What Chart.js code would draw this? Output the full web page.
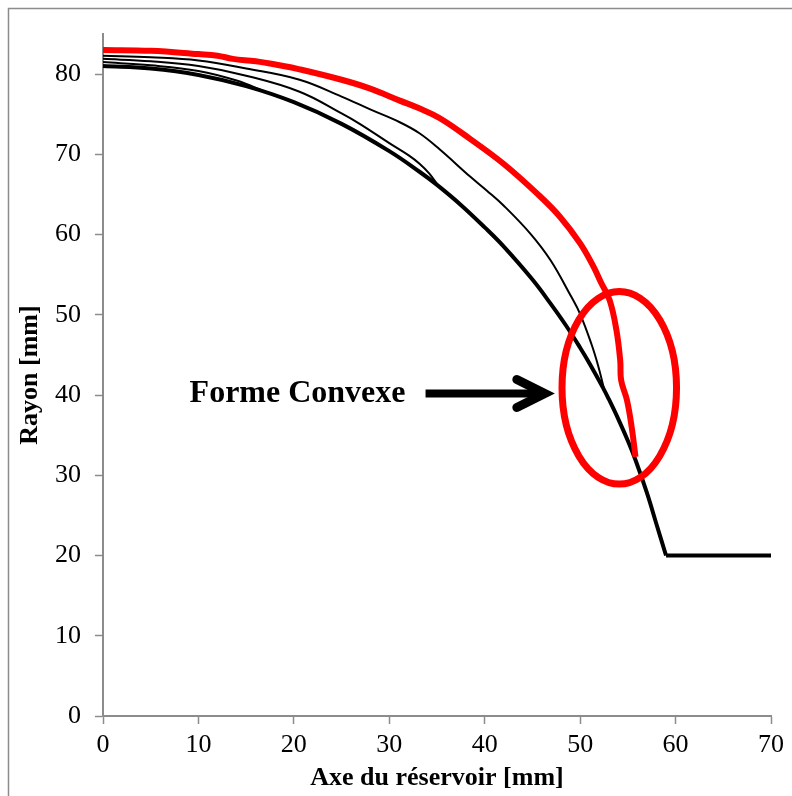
<!DOCTYPE html>
<html><head><meta charset="utf-8">
<script src="https://cdn.jsdelivr.net/npm/chart.js@4/dist/chart.umd.min.js"></script>
<style>html,body{margin:0;padding:0;background:#fff;}</style>
</head><body>
<canvas id="c" width="792" height="796"></canvas>
<script>
// ---- data ----
const xRed = [0, 5, 10, 12, 13.6, 16, 18.5, 20.6, 25, 28, 31.1, 33.2, 35.3, 38.5, 42.0, 45.5, 47.9, 50.0, 51.4, 52.2, 53.1, 53.8, 54.2, 54.3, 54.9, 55.4, 55.8];
const yRed = [83.0, 82.9, 82.5, 82.3, 81.9, 81.6, 81.1, 80.6, 79.3, 78.2, 76.7, 75.7, 74.5, 71.9, 68.8, 65.1, 62.2, 58.9, 56.0, 54.0, 51.8, 48.1, 44.3, 41.8, 39.4, 36.0, 32.3];

const xThinA = [0, 5, 10, 15, 20.6, 25, 28, 31.1, 33.2, 35.3, 38.5, 40.2, 42.0, 44.8, 46.9, 49.0, 50.0, 51.2, 51.9, 52.5];
const yThinA = [82.3, 82.1, 81.7, 80.7, 79.3, 77.2, 75.6, 74.0, 72.6, 70.6, 67.2, 65.5, 63.6, 60.1, 56.8, 52.4, 50.1, 46.3, 43.6, 40.8];

const xThinB = [0, 5, 10, 15, 20.6, 25, 26.9, 30, 32, 33.2, 34.2, 35.0];
const yThinB = [81.9, 81.6, 81.0, 79.8, 77.8, 75.1, 73.8, 71.4, 69.9, 68.8, 67.6, 66.3];

const xThinC = [0, 5, 10, 14, 17];
const yThinC = [81.5, 81.1, 80.4, 79.2, 77.8];

const xBase = [0, 5, 10, 15, 20, 25, 30, 33.2, 35, 37.5, 40, 42, 45, 46.9, 48.5, 50, 51, 52.4, 53, 54, 55, 55.8, 57, 58, 59];
const yBase = [81.0, 80.7, 79.9, 78.5, 76.5, 73.8, 70.4, 67.8, 66.2, 63.7, 60.9, 58.5, 54.4, 51.4, 48.7, 45.9, 43.9, 40.9, 39.5, 37.0, 34.3, 31.9, 27.8, 23.9, 20.0];
const xFlat = [59, 70];
const yFlat = [20.0, 20.0];

const xTicks = [0, 10, 20, 30, 40, 50, 60, 70];
const yTicks = [0, 10, 20, 30, 40, 50, 60, 70, 80];

const annotText = "Forme Convexe";
const annotTextRight = 31.7;   // mm
const annotY = 40.2;           // mm
const arrowFrom = 33.8, arrowTo = 46.3;
const ellipseCx = 54.1, ellipseCy = 40.9, ellipseRx = 6.0, ellipseRy = 12.0;

const pts = (xs, ys) => xs.map((x, i) => ({x, y: ys[i]}));

const FONT = "'Liberation Serif', 'Times New Roman', serif";
const AXIS_GRAY = '#8c8c8c';

const framePlugin = {
  id: 'frame',
  beforeDraw(chart) {
    const ctx = chart.ctx;
    ctx.save();
    ctx.fillStyle = '#fff';
    ctx.fillRect(0, 0, chart.width, chart.height);
    ctx.strokeStyle = '#8c8c8c';
    ctx.lineWidth = 1.5;
    ctx.strokeRect(8.5, 8.5, 900, 900);
    ctx.restore();
  }
};

const annotPlugin = {
  id: 'annot',
  afterDatasetsDraw(chart) {
    const ctx = chart.ctx, xs = chart.scales.x, ys = chart.scales.y;
    ctx.save();
    const cx = xs.getPixelForValue(ellipseCx), cy = ys.getPixelForValue(ellipseCy);
    const rx = xs.getPixelForValue(ellipseCx + ellipseRx) - cx;
    const ry = cy - ys.getPixelForValue(ellipseCy + ellipseRy);
    ctx.beginPath();
    ctx.ellipse(cx, cy, rx, ry, 0, 0, Math.PI * 2);
    ctx.strokeStyle = '#ff0000';
    ctx.lineWidth = 7;
    ctx.stroke();
    const ay = ys.getPixelForValue(annotY);
    const ax0 = xs.getPixelForValue(arrowFrom), ax1 = xs.getPixelForValue(arrowTo);
    ctx.strokeStyle = '#000';
    ctx.lineWidth = 8;
    ctx.lineCap = 'butt';
    ctx.beginPath();
    ctx.moveTo(ax0, ay);
    ctx.lineTo(ax1 - 4, ay);
    ctx.stroke();
    ctx.lineWidth = 9;
    ctx.lineCap = 'round';
    ctx.lineJoin = 'miter';
    ctx.beginPath();
    ctx.moveTo(ax1 - 28, ay - 14);
    ctx.lineTo(ax1, ay);
    ctx.lineTo(ax1 - 28, ay + 14);
    ctx.stroke();
    ctx.fillStyle = '#000';
    ctx.font = "bold 32px " + FONT;
    ctx.textAlign = 'right';
    ctx.textBaseline = 'middle';
    ctx.fillText(annotText, xs.getPixelForValue(annotTextRight), ay);
    ctx.restore();
  }
};

new Chart(document.getElementById('c'), {
  type: 'scatter',
  data: {
    datasets: [
      {label: 'rouge', data: pts(xRed, yRed), borderColor: '#ff0000', borderWidth: 6, tension: 0.4},
      {label: 'A', data: pts(xThinA, yThinA), borderColor: '#000', borderWidth: 2, tension: 0.4},
      {label: 'B', data: pts(xThinB, yThinB), borderColor: '#000', borderWidth: 2, tension: 0.4},
      {label: 'C', data: pts(xThinC, yThinC), borderColor: '#000', borderWidth: 2, tension: 0.4},
      {label: 'base', data: pts(xBase, yBase), borderColor: '#000', borderWidth: 4, tension: 0.4},
      {label: 'base2', data: pts(xFlat, yFlat), borderColor: '#000', borderWidth: 4, tension: 0}
    ].map(d => Object.assign({showLine: true, pointRadius: 0, pointHoverRadius: 0, fill: false, borderJoinStyle: 'round', borderCapStyle: 'butt'}, d))
  },
  options: {
    responsive: false,
    animation: false,
    devicePixelRatio: 1,
    layout: {padding: {left: 0, right: 21, top: 34, bottom: 0}},
    plugins: {legend: {display: false}, tooltip: {enabled: false}},
    scales: {
      x: {
        type: 'linear', min: 0, max: 70,
        afterBuildTicks: s => { s.ticks = xTicks.map(v => ({value: v})); },
        afterFit: s => { s.height = 80; },
        grid: {drawOnChartArea: false, drawTicks: true, tickLength: 8, tickColor: AXIS_GRAY, tickWidth: 1.5},
        border: {color: AXIS_GRAY, width: 2},
        ticks: {font: {family: FONT, size: 26}, color: '#000', padding: 6, maxRotation: 0},
        title: {display: true, text: 'Axe du réservoir [mm]', font: {family: FONT, size: 26, weight: 'bold'}, color: '#000', padding: {top: 0, bottom: 2}}
      },
      y: {
        type: 'linear', min: 0, max: 85,
        afterBuildTicks: s => { s.ticks = yTicks.map(v => ({value: v})); },
        afterFit: s => { s.width = 103; },
        grid: {drawOnChartArea: false, drawTicks: true, tickLength: 8, tickColor: AXIS_GRAY, tickWidth: 1.5},
        border: {color: AXIS_GRAY, width: 2},
        ticks: {font: {family: FONT, size: 26}, color: '#000', padding: 14},
        title: {display: true, text: 'Rayon [mm]', font: {family: FONT, size: 26, weight: 'bold'}, color: '#000', padding: {top: 15, bottom: 0}}
      }
    }
  },
  plugins: [framePlugin, annotPlugin]
});
</script>
</body></html>
